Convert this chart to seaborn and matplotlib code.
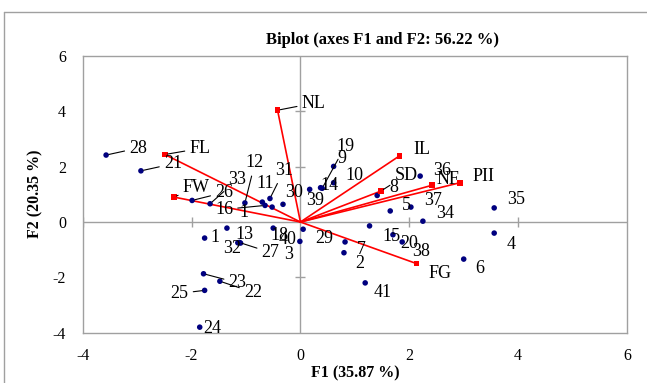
import numpy as np
import pandas as pd
import seaborn as sns
import matplotlib.pyplot as plt
from matplotlib.lines import Line2D

# observation scores (F1, F2)
obs_labels = [str(i) for i in range(1, 42)]
obs_labels[16] = "1"  # label 17 shows only as "1" in the source
obs_f1 = [-1.76, 0.80, -1.10, 3.56, 1.65, 3.00, 0.82, 1.41, 0.61, 0.61,
          -0.70, -1.02, -1.35, 0.37, 1.27, -0.65, -0.52, -0.50, 0.40, 1.70,
          -2.93, -1.48, -1.78, -1.85, -1.76, -1.99, -1.12, -3.57, 0.05, -0.32,
          -0.56, -1.15, -1.66, 2.25, 3.56, 2.20, 2.03, 1.87, 0.17, -0.01, 1.19]
obs_f2 = [-0.58, -1.11, -0.76, -0.40, 0.40, -1.34, -0.72, 0.96, 2.01, 1.42,
          0.72, 0.69, -0.22, 1.24, -0.14, 0.60, 0.54, -0.22, 1.22, -0.46,
          1.85, -2.14, -1.87, -3.80, -2.47, 0.78, -0.74, 2.42, -0.26, 0.64,
          0.85, -0.75, 0.66, 0.03, 0.51, 1.66, 0.54, -0.72, 1.18, -0.70, -2.20]

# variable loadings (F1, F2)
var_labels = ["NL", "FL", "FW", "IL", "SD", "NF", "PII", "FG"]
var_f1 = [-0.42, -2.49, -2.32, 1.82, 1.48, 2.42, 2.93, 2.13]
var_f2 = [4.04, 2.44, 0.90, 2.39, 1.12, 1.33, 1.42, -1.50]

# label offsets in pixels (dx, dy) and whether a leader line is drawn
obs_offsets = {
    "1": (10, 1, False), "2": (16, -11, False), "3": (48, -11, False),
    "4": (17, -11, False), "5": (16, 5, False), "6": (16, -9, False),
    "7": (16, -8, False), "8": (17, 8, False), "9": (8, 8, False),
    "10": (21, 7, False), "11": (3, 19, False), "12": (10, 40, True),
    "13": (18, -6, False), "14": (9, 2, False), "15": (22, -11, False),
    "16": (-41, -4, True), "17": (-28, -5, False), "18": (6, -7, False),
    "19": (23, 42, True), "20": (16, -9, False), "21": (32, 7, True),
    "22": (33, -11, True), "23": (34, -9, True), "24": (13, -1, False),
    "25": (-25, -3, True), "26": (32, 8, True), "27": (31, -10, True),
    "28": (32, 7, True), "29": (21, -9, False), "30": (11, 12, True),
    "31": (14, 28, True), "32": (-6, -6, False), "33": (27, 24, True),
    "34": (22, 8, False), "35": (22, 8, False), "36": (22, 6, False),
    "37": (22, 7, False), "38": (19, -10, False), "39": (5, -11, False),
    "40": (-12, 2, False), "41": (17, -10, False),
}
var_offsets = {
    "NL": (36, 7, True), "FL": (35, 6, True), "FW": (22, 10, True),
    "IL": (22, 6, False), "SD": (25, 16, True), "NF": (16, 6, False),
    "PII": (24, 6, False), "FG": (24, -10, False),
}

obs_df = pd.DataFrame({"F1": obs_f1, "F2": obs_f2, "label": obs_labels})
var_df = pd.DataFrame({"F1": var_f1, "F2": var_f2, "label": var_labels})

sns.set_style("white")
plt.rcParams["font.family"] = ["Liberation Serif", "DejaVu Serif"]
plt.rcParams["axes.unicode_minus"] = False
plt.rcParams["text.color"] = "black"
plt.rcParams["xtick.color"] = "black"
plt.rcParams["ytick.color"] = "black"

fig = plt.figure(figsize=(6.47, 3.83), dpi=100)
ax = fig.add_axes([82.7 / 647, 50.3 / 383, 544.3 / 647, 276.7 / 383])

grey = "#a0a0a0"
ax.axhline(0, color=grey, lw=1, zorder=1)
ax.axvline(0, color=grey, lw=1, zorder=1)
# cross ticks on the zero lines
for t in [-4, -2, 2, 4]:
    ax.plot([t], [0], marker="|", ms=7, color=grey, mew=1, zorder=1)
for t in [-2, 2, 4]:
    ax.plot([0], [t], marker="_", ms=7, color=grey, mew=1, zorder=1)

# vectors
for i, row in var_df.iterrows():
    ax.plot([0, row.F1], [0, row.F2], color="red", lw=1.2, zorder=2)

sns.scatterplot(data=obs_df, x="F1", y="F2", color="#00007f", s=16,
                marker="o", edgecolor="none", ax=ax, zorder=3)
sns.scatterplot(data=var_df, x="F1", y="F2", color="red", s=16,
                marker="s", edgecolor="none", ax=ax, zorder=3)


def put_labels(df, offsets, key_fn):
    for i, row in df.iterrows():
        dx, dy, leader = offsets[key_fn(i, row)]
        arrow = dict(arrowstyle="-", color="black", lw=0.8,
                     shrinkA=1, shrinkB=2) if leader else None
        ax.annotate(row.label, xy=(row.F1, row.F2), xytext=(dx, dy),
                    textcoords="offset pixels", ha="center", va="center",
                    fontsize=13, color="black", arrowprops=arrow, zorder=4)


put_labels(obs_df, obs_offsets, lambda i, r: str(i + 1))
put_labels(var_df, var_offsets, lambda i, r: r.label)

ax.set_xlim(-4, 6)
ax.set_ylim(-4, 6)
ax.set_xticks(range(-4, 7, 2))
ax.set_yticks(range(-4, 7, 2))
ax.tick_params(length=0, labelsize=11.5, labelcolor="black")
ax.tick_params(axis="x", pad=11)
ax.tick_params(axis="y", pad=12)
ax.set_xlabel("")
ax.set_ylabel("")
for sp in ax.spines.values():
    sp.set_color(grey)
    sp.set_linewidth(1)

fig.text(382 / 647, 1 - 40 / 383, "Biplot (axes F1 and F2: 56.22 %)",
         ha="center", va="center", fontsize=12, fontweight="bold")
fig.text(355 / 647, 1 - 373 / 383, "F1 (35.87 %)", ha="center",
         va="center", fontsize=11.5, fontweight="bold")
fig.text(35 / 647, 1 - 194 / 383, "F2 (20.35 %)", ha="center",
         va="center", fontsize=11.5, fontweight="bold", rotation=90)

# chart area border (only left and top visible)
fig.add_artist(Line2D([4 / 647, 4 / 647], [0, 1 - 12 / 383],
                      color=grey, lw=1))
fig.add_artist(Line2D([4 / 647, 1], [1 - 12 / 383, 1 - 12 / 383],
                      color=grey, lw=1))

fig.savefig("out.png", dpi=100)
